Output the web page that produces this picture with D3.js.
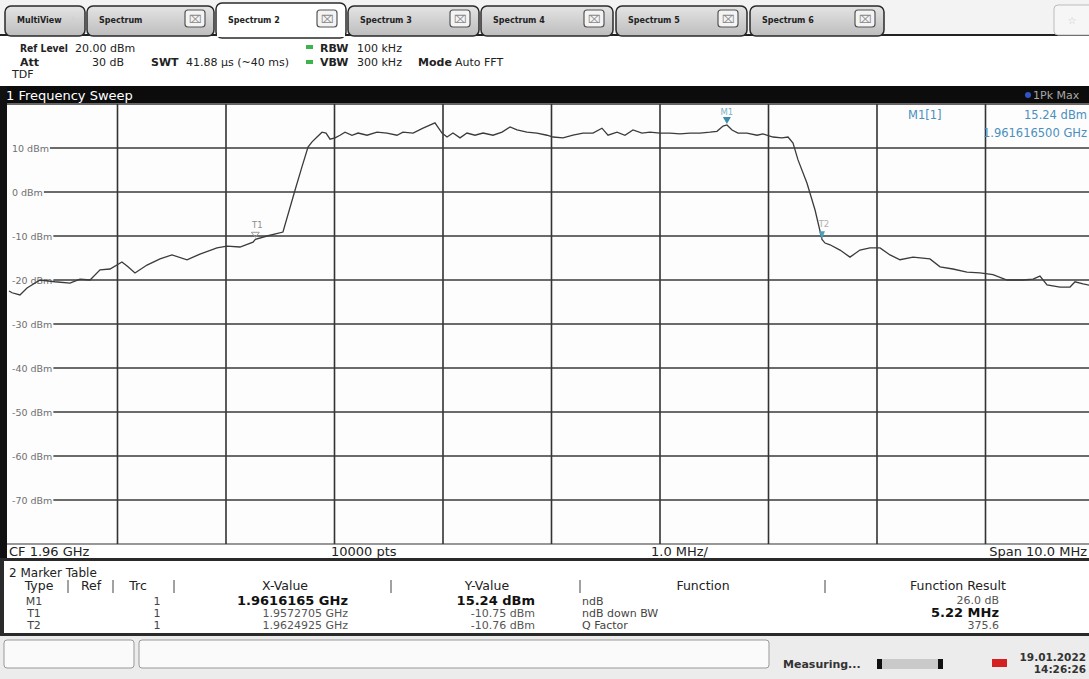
<!DOCTYPE html>
<html>
<head>
<meta charset="utf-8">
<script src="https://cdn.jsdelivr.net/npm/d3@7/dist/d3.min.js"></script>
<style>
body { margin: 0; background: #fff; }
svg { display: block; font-family: "DejaVu Sans", Verdana, sans-serif; }
</style>
</head>
<body>
<svg id="chart" width="1089" height="679"></svg>
<script>
// trace: frequency (MHz) and level (dBm)
const traceFreq = [
  1955.000, 1955.028, 1955.101, 1955.166, 1955.286, 1955.424, 1955.562, 1955.654, 1955.747, 1955.839,
  1955.931, 1956.041, 1956.097, 1956.161, 1956.272, 1956.392, 1956.502, 1956.641, 1956.760, 1956.917,
  1957.009, 1957.129, 1957.249, 1957.271, 1957.378, 1957.525, 1957.636, 1957.700, 1957.756, 1957.793,
  1957.839, 1957.885, 1957.922, 1957.959, 1958.005, 1958.051, 1958.097, 1958.161, 1958.217, 1958.300,
  1958.392, 1958.484, 1958.576, 1958.631, 1958.724, 1958.816, 1958.926, 1958.991, 1959.037, 1959.092,
  1959.157, 1959.221, 1959.295, 1959.369, 1959.461, 1959.544, 1959.618, 1959.682, 1959.774, 1959.866,
  1959.959, 1960.014, 1960.106, 1960.198, 1960.290, 1960.382, 1960.465, 1960.521, 1960.604, 1960.677,
  1960.751, 1960.834, 1960.908, 1961.000, 1961.092, 1961.184, 1961.276, 1961.369, 1961.461, 1961.525,
  1961.581, 1961.617, 1961.664, 1961.719, 1961.802, 1961.894, 1961.949, 1962.041, 1962.124, 1962.180,
  1962.226, 1962.272, 1962.355, 1962.429, 1962.493, 1962.521, 1962.567, 1962.659, 1962.751, 1962.843,
  1962.935, 1963.028, 1963.120, 1963.212, 1963.332, 1963.488, 1963.581, 1963.700, 1963.829, 1963.949,
  1964.069, 1964.198, 1964.346, 1964.438, 1964.502, 1964.567, 1964.687, 1964.779, 1964.825, 1964.899,
  1965.000
];
const traceLevel = [
  -22.5, -22.9, -23.4, -21.8, -20.0, -20.4, -20.7, -19.8, -20.0, -17.7,
  -17.5, -15.9, -17.0, -18.4, -16.6, -15.2, -14.3, -15.4, -14.1, -12.7,
  -12.3, -12.5, -11.4, -10.75, -10.0, -9.1, 0.4, 5.7, 10.2, 11.4,
  12.5, 13.6, 13.4, 12.0, 12.3, 12.9, 13.6, 12.9, 13.4, 12.9,
  13.6, 13.4, 12.9, 13.6, 13.4, 14.5, 15.7, 13.4, 12.5, 13.4,
  12.3, 13.4, 12.9, 13.4, 12.9, 13.6, 14.8, 14.1, 13.6, 13.4,
  12.9, 12.5, 12.3, 12.9, 13.4, 13.4, 14.5, 12.9, 13.6, 12.9,
  14.1, 13.4, 13.6, 13.4, 13.4, 13.2, 13.4, 13.4, 13.6, 13.8,
  15.0, 15.24, 14.1, 13.4, 13.4, 12.9, 13.2, 12.5, 12.3, 12.5,
  11.1, 7.3, 2.0, -4.1, -10.76, -11.6, -12.0, -13.2, -14.8, -13.2,
  -12.7, -12.7, -14.3, -15.4, -14.8, -15.2, -17.0, -17.5, -18.2, -18.4,
  -18.8, -20.0, -20.0, -19.8, -19.1, -21.1, -21.6, -21.6, -20.4, -20.9,
  -21.4
];

const yTickLevels = [10, 0, -10, -20, -30, -40, -50, -60, -70];
const xGridFreq = [1956, 1957, 1958, 1959, 1960, 1961, 1962, 1963, 1964];

const tabNames = ["MultiView", "Spectrum", "Spectrum 2", "Spectrum 3", "Spectrum 4", "Spectrum 5", "Spectrum 6"];

const markerNames = ["M1", "T1", "T2"];
const markerFreq = [1961.6165, 1957.2705, 1962.4925];
const markerLevel = [15.24, -10.75, -10.76];

const tableXValue = ["1.9616165 GHz", "1.9572705 GHz", "1.9624925 GHz"];
const tableYValue = ["15.24 dBm", "-10.75 dBm", "-10.76 dBm"];
const tableFunction = ["ndB", "ndB down BW", "Q Factor"];
const tableResult = ["26.0 dB", "5.22 MHz", "375.6"];

const svg = d3.select("#chart");
const W = 1089, H = 679;

// ---------- tab bar ----------
svg.append("rect").attr("width", W).attr("height", 36).attr("fill", "#f3f3f3");

const grad = svg.append("defs").append("linearGradient")
    .attr("id", "tabGrad").attr("x1", 0).attr("y1", 0).attr("x2", 0).attr("y2", 1);
grad.append("stop").attr("offset", "0%").attr("stop-color", "#e4e4e4");
grad.append("stop").attr("offset", "100%").attr("stop-color", "#bdbdbd");

const tabLeft = [5, 87, 216, 348, 481, 616, 750];
const tabRight = [85, 214, 346, 479, 613, 747, 884];

svg.append("line").attr("x1", 0).attr("x2", W).attr("y1", 35).attr("y2", 35)
    .attr("stroke", "#222").attr("stroke-width", 2);

tabNames.forEach((name, i) => {
    const active = i === 2;
    const top = active ? 3 : 6;
    const g = svg.append("g");
    g.append("rect")
        .attr("x", tabLeft[i]).attr("y", top)
        .attr("width", tabRight[i] - tabLeft[i]).attr("height", 36 - top + (active ? 2 : 0))
        .attr("rx", 6)
        .attr("fill", active ? "#fff" : "url(#tabGrad)")
        .attr("stroke", "#2a2a2a").attr("stroke-width", 1.5);
    g.append("text")
        .attr("x", tabLeft[i] + 12).attr("y", 23)
        .attr("font-size", 8).attr("font-weight", "bold").attr("fill", "#222")
        .text(name);
    if (i === 0) {
        g.append("text").attr("x", tabRight[i] - 12).attr("y", 24)
            .attr("text-anchor", "middle").attr("font-size", 12).attr("fill", "#d0d0d0").text("+");
    } else {
        const bx = tabRight[i] - 29;
        g.append("rect").attr("x", bx).attr("y", 10).attr("width", 20).attr("height", 17)
            .attr("rx", 3).attr("fill", "#f4f4f4").attr("stroke", "#555").attr("stroke-width", 1.2);
        g.append("text").attr("x", bx + 10).attr("y", 23).attr("text-anchor", "middle")
            .attr("font-size", 11).attr("fill", "#8a8a8a").text("⌧");
    }
});
// cover the line beneath the active tab
svg.append("rect").attr("x", tabLeft[2] + 1).attr("y", 33).attr("width", tabRight[2] - tabLeft[2] - 2)
    .attr("height", 4).attr("fill", "#fff");

svg.append("rect").attr("x", 1054).attr("y", 5).attr("width", 40).attr("height", 30).attr("rx", 4)
    .attr("fill", "#f6f6f6").attr("stroke", "#bbb");
svg.append("text").attr("x", 1072).attr("y", 24).attr("text-anchor", "middle")
    .attr("font-size", 10).attr("fill", "#c8c8c8").text("☆");

// ---------- setting header ----------
const hdr = svg.append("g").attr("font-size", 11).attr("fill", "#222");
function hText(x, y, str, bold, anchor, len) {
    const t = hdr.append("text").attr("x", x).attr("y", y)
        .attr("font-weight", bold ? "bold" : "normal")
        .attr("text-anchor", anchor || "start")
        .text(str);
    if (len) t.attr("textLength", len).attr("lengthAdjust", "spacingAndGlyphs");
}
hText(20, 52, "Ref Level", true, "start", 48);
hText(75, 52, "20.00 dBm", false);
hText(20, 66, "Att", true);
hText(124, 66, "30 dB", false, "end");
hText(151, 66, "SWT", true);
hText(186, 66, "41.88 µs (~40 ms)", false);
hText(320, 52, "RBW", true);
hText(357, 52, "100 kHz", false);
hText(320, 66, "VBW", true);
hText(357, 66, "300 kHz", false);
hText(418, 66, "Mode", true);
hText(455, 66, "Auto FFT", false);
hText(12, 78, "TDF", false);
hdr.append("rect").attr("x", 306).attr("y", 45).attr("width", 7).attr("height", 4).attr("fill", "#3cb44b");
hdr.append("rect").attr("x", 306).attr("y", 60).attr("width", 7).attr("height", 4).attr("fill", "#3cb44b");

// ---------- window title bar ----------
svg.append("rect").attr("x", 3).attr("y", 86).attr("width", W).attr("height", 17).attr("fill", "#0c0c0c");
svg.append("text").attr("x", 6).attr("y", 100).attr("font-size", 13).attr("fill", "#fff").text("1 Frequency Sweep");
svg.append("circle").attr("cx", 1028).attr("cy", 95).attr("r", 3).attr("fill", "#2f55c8");
svg.append("text").attr("x", 1033).attr("y", 99).attr("font-size", 11).attr("fill", "#a8a8a8").text("1Pk Max");

// ---------- diagram ----------
const plotLeft = 9, plotTop = 104, plotW = 1085, plotH = 440;
const x = d3.scaleLinear().domain([1955, 1965]).range([plotLeft, plotLeft + plotW]);
const y = d3.scaleLinear().domain([-80, 20]).range([plotTop + plotH, plotTop]);

svg.append("rect").attr("x", 0).attr("y", 86).attr("width", 7).attr("height", 475).attr("fill", "#111");
svg.append("rect").attr("x", 7).attr("y", plotTop).attr("width", W - 7).attr("height", plotH).attr("fill", "#fdfdfd");

svg.append("g").selectAll("line").data(xGridFreq).join("line")
    .attr("x1", d => x(d)).attr("x2", d => x(d))
    .attr("y1", plotTop).attr("y2", plotTop + plotH)
    .attr("stroke", "#333").attr("stroke-width", 1.6);

const yLab = svg.append("g").selectAll("g").data(yTickLevels).join("g");
yLab.append("text")
    .attr("x", 12).attr("y", d => y(d) + 4)
    .attr("font-size", 9.5).attr("fill", "#707070")
    .text(d => d + " dBm");
yLab.append("line")
    .attr("x1", function (d) { return 13 + this.parentNode.querySelector("text").getComputedTextLength(); })
    .attr("x2", W)
    .attr("y1", d => y(d)).attr("y2", d => y(d))
    .attr("stroke", "#3a3a3a").attr("stroke-width", 1.4);

svg.append("line").attr("x1", 7).attr("x2", W).attr("y1", y(20)).attr("y2", y(20))
    .attr("stroke", "#333").attr("stroke-width", 1.5);
svg.append("line").attr("x1", 7).attr("x2", W).attr("y1", y(-80)).attr("y2", y(-80))
    .attr("stroke", "#333").attr("stroke-width", 1.2);

const trace = traceFreq.map((f, i) => ({ f: f, v: traceLevel[i] }));
svg.append("path").datum(trace)
    .attr("fill", "none").attr("stroke", "#3b3b3b").attr("stroke-width", 1.3)
    .attr("d", d3.line().x(d => x(d.f)).y(d => y(d.v)));

// markers
const mk = markerNames.map((n, i) => ({ name: n, f: markerFreq[i], v: markerLevel[i] }));
const m1 = mk[0];
svg.append("path")
    .attr("d", `M${x(m1.f) - 4},${y(m1.v) - 8} L${x(m1.f) + 4},${y(m1.v) - 8} L${x(m1.f)},${y(m1.v) - 1} Z`)
    .attr("fill", "#3a8ca8");
svg.append("text").attr("x", x(m1.f)).attr("y", y(m1.v) - 10).attr("text-anchor", "middle")
    .attr("font-size", 8.5).attr("fill", "#7eb2c6").text(m1.name);

const t1 = mk[1];
svg.append("text").attr("x", x(t1.f) + 2).attr("y", y(t1.v) - 11).attr("text-anchor", "middle")
    .attr("font-size", 8.5).attr("fill", "#8c8c8c").text(t1.name);
svg.append("path")
    .attr("d", `M${x(t1.f) - 4},${y(t1.v) - 7} L${x(t1.f) + 4},${y(t1.v) - 7} L${x(t1.f)},${y(t1.v) - 2} Z`)
    .attr("fill", "none").attr("stroke", "#9a9a9a");

const t2 = mk[2];
svg.append("text").attr("x", x(t2.f) + 2).attr("y", y(t2.v) - 12).attr("text-anchor", "middle")
    .attr("font-size", 8.5).attr("fill", "#b0b0b0").text(t2.name);
svg.append("path")
    .attr("d", `M${x(t2.f) - 3},${y(t2.v) - 8} L${x(t2.f) + 3},${y(t2.v) - 8} L${x(t2.f)},${y(t2.v)} Z`)
    .attr("fill", "#4aa0b8");

// marker readout
const ro = svg.append("g").attr("font-size", 11.5).attr("fill", "#4a8fbd");
ro.append("text").attr("x", 908).attr("y", 119).text("M1[1]");
ro.append("text").attr("x", 1087).attr("y", 119).attr("text-anchor", "end").text(m1.v.toFixed(2) + " dBm");
ro.append("text").attr("x", 1087).attr("y", 137).attr("text-anchor", "end").text("1.961616500 GHz");

// footer of diagram
svg.append("rect").attr("x", 7).attr("y", 545).attr("width", W).attr("height", 13).attr("fill", "#fff");
const ft = svg.append("g").attr("font-size", 13).attr("fill", "#222");
ft.append("text").attr("x", 9).attr("y", 556).text("CF 1.96 GHz");
ft.append("text").attr("x", 331).attr("y", 556).text("10000 pts");
ft.append("text").attr("x", 651).attr("y", 556).text("1.0 MHz/");
ft.append("text").attr("x", 1087).attr("y", 556).attr("text-anchor", "end").text("Span 10.0 MHz");
svg.append("rect").attr("x", 0).attr("y", 558).attr("width", W).attr("height", 3).attr("fill", "#2a2a2a");

// ---------- marker table ----------
svg.append("rect").attr("x", 0).attr("y", 561).attr("width", 4).attr("height", 74).attr("fill", "#2a2a2a");
const tb = svg.append("g").attr("font-size", 11).attr("fill", "#222");
tb.append("text").attr("x", 9).attr("y", 577).attr("font-size", 12).text("2 Marker Table");

const hdrRow = tb.append("g").attr("font-size", 12.5);
[["Type", 39], ["Ref", 91], ["Trc", 138], ["X-Value", 285], ["Y-Value", 487], ["Function", 703], ["Function Result", 958]]
    .forEach(h => hdrRow.append("text").attr("x", h[1]).attr("y", 590).attr("text-anchor", "middle").text(h[0]));
[68, 113, 174, 391, 580, 825].forEach(px =>
    hdrRow.append("line").attr("x1", px).attr("x2", px).attr("y1", 580).attr("y2", 593)
        .attr("stroke", "#444").attr("stroke-width", 1));

markerNames.forEach((n, i) => {
    const ry = 605 + i * 12;
    const big = i === 0;
    tb.append("text").attr("x", 34).attr("y", ry).attr("text-anchor", "middle").attr("fill", "#444").text(n);
    tb.append("text").attr("x", 157).attr("y", ry).attr("text-anchor", "middle").attr("fill", "#444").text("1");
    tb.append("text").attr("x", 348).attr("y", ry).attr("text-anchor", "end")
        .attr("font-size", big ? 13 : 11).attr("font-weight", big ? "bold" : "normal")
        .attr("fill", big ? "#111" : "#555").text(tableXValue[i]);
    tb.append("text").attr("x", 535).attr("y", ry).attr("text-anchor", "end")
        .attr("font-size", big ? 13 : 11).attr("font-weight", big ? "bold" : "normal")
        .attr("fill", big ? "#111" : "#555").text(tableYValue[i]);
    tb.append("text").attr("x", 582).attr("y", ry).attr("fill", "#444").text(tableFunction[i]);
    tb.append("text").attr("x", 999).attr("y", ry + (i === 0 ? -1 : 0)).attr("text-anchor", "end")
        .attr("font-size", i === 1 ? 13 : 11).attr("font-weight", i === 1 ? "bold" : "normal")
        .attr("fill", i === 1 ? "#111" : "#555").text(tableResult[i]);
});
svg.append("rect").attr("x", 0).attr("y", 633).attr("width", W).attr("height", 3).attr("fill", "#2a2a2a");

// ---------- status bar ----------
svg.append("rect").attr("x", 0).attr("y", 636).attr("width", W).attr("height", H - 636).attr("fill", "#ececec");
svg.append("rect").attr("x", 4).attr("y", 640).attr("width", 130).attr("height", 28).attr("rx", 3)
    .attr("fill", "#fafafa").attr("stroke", "#999");
svg.append("rect").attr("x", 139).attr("y", 640).attr("width", 630).attr("height", 28).attr("rx", 3)
    .attr("fill", "#fafafa").attr("stroke", "#999");
svg.append("text").attr("x", 783).attr("y", 668).attr("font-size", 11).attr("font-weight", "bold")
    .attr("fill", "#333").text("Measuring...");
svg.append("rect").attr("x", 877).attr("y", 659).attr("width", 66).attr("height", 10).attr("fill", "#c9c9c9");
svg.append("rect").attr("x", 877).attr("y", 659).attr("width", 5).attr("height", 10).attr("fill", "#111");
svg.append("rect").attr("x", 938).attr("y", 659).attr("width", 5).attr("height", 10).attr("fill", "#111");
svg.append("rect").attr("x", 992).attr("y", 659).attr("width", 15).attr("height", 8).attr("fill", "#d42020");
svg.append("text").attr("x", 1086).attr("y", 661).attr("text-anchor", "end").attr("font-size", 10.5)
    .attr("font-weight", "bold").attr("fill", "#333").text("19.01.2022");
svg.append("text").attr("x", 1086).attr("y", 673).attr("text-anchor", "end").attr("font-size", 10.5)
    .attr("font-weight", "bold").attr("fill", "#333").text("14:26:26");
</script>
</body>
</html>
